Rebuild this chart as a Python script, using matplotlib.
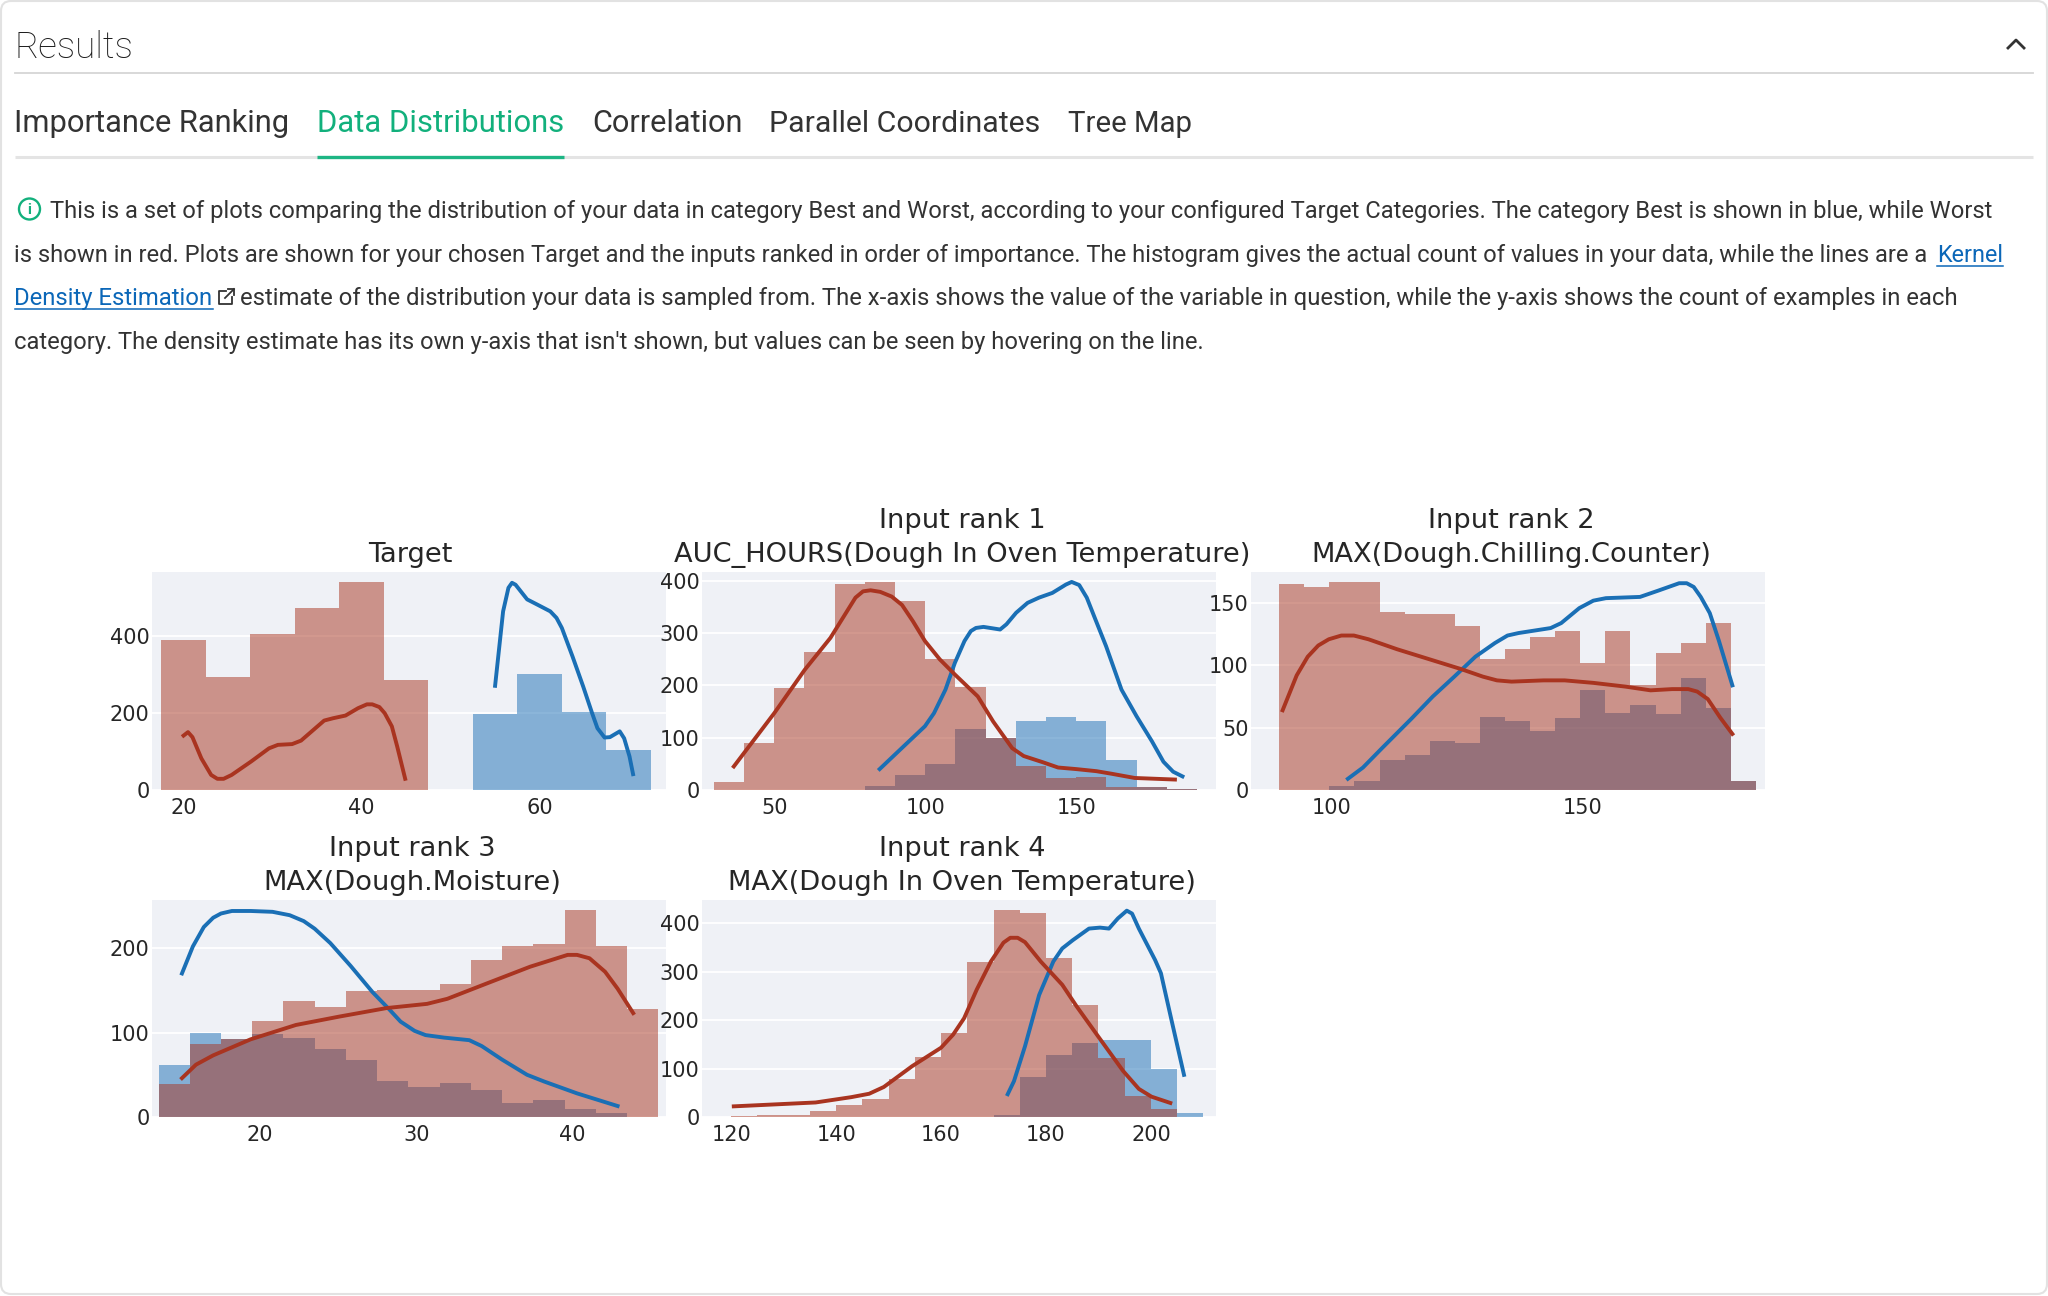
import matplotlib
matplotlib.use("Agg")
import matplotlib.pyplot as plt
from matplotlib.patches import FancyBboxPatch, Circle

# bin edges and counts
target_edges = [17.5, 22.5, 27.5, 32.5, 37.5, 42.5, 47.5, 52.5, 57.5, 62.5, 67.5, 72.5]
target_worst = [388, 292, 405, 472, 539, 286, 0, 0, 0, 0, 0]
target_best = [0, 0, 0, 0, 0, 0, 0, 197, 300, 201, 104]
target_worst_x = [20, 20.5, 21, 22, 23.1, 23.8, 24.5, 25.4, 27.6, 29.6, 30.6, 32.2, 33.2, 35.8, 36.8, 38.2, 39.6, 40.6, 41.2, 42, 42.6, 43.4, 44, 44.9]
target_worst_y = [141, 150, 137, 82, 39, 29, 29, 39, 74, 108, 117, 119, 128, 180, 186, 193, 212, 222, 222, 215, 199, 165, 113, 29]
target_best_x = [55, 55.9, 56.5, 56.9, 57.3, 58.6, 59.7, 61.2, 61.9, 62.5, 63.7, 64.9, 65.9, 66.5, 67.3, 67.9, 69, 69.5, 70.1, 70.5]
target_best_y = [270, 463, 524, 537, 532, 494, 481, 463, 446, 420, 346, 268, 199, 160, 136, 137, 152, 134, 87, 41]

auc_edges = [30, 40, 50, 60, 70, 80, 90, 100, 110, 120, 130, 140, 150, 160, 170, 180, 190]
auc_worst = [16, 90, 195, 264, 394, 398, 362, 250, 197, 99, 45, 22, 24, 5, 5, 2]
auc_best = [0, 0, 0, 0, 0, 8, 28, 50, 116, 99, 132, 140, 132, 57, 5, 2]
auc_worst_x = [36.6, 50, 60.1, 68.6, 76.9, 79.4, 81.9, 85.1, 88.9, 92.3, 95.9, 99.9, 104.8, 109.8, 117.4, 122.5, 128.8, 132.6, 139, 144, 150, 156.7, 161.8, 169.4, 182.7]
auc_worst_y = [45, 147, 230, 291, 368, 380, 382, 379, 370, 354, 323, 285, 250, 221, 179, 131, 80, 65, 53, 43, 40, 36, 31, 23, 20]
auc_best_x = [84.9, 93.3, 99.9, 102.9, 106.7, 109.8, 113, 115.1, 116.8, 119.3, 124.8, 126.9, 130.1, 133.9, 137.7, 142.1, 146.6, 148.5, 151, 153.5, 156.1, 159.9, 165, 170, 175.1, 178.9, 182.1, 185.2]
auc_best_y = [40, 86, 122, 147, 192, 243, 285, 304, 310, 312, 307, 317, 339, 358, 368, 377, 393, 398, 392, 368, 330, 275, 192, 141, 93, 54, 35, 26]

chill_edges = [89.5, 94.5, 99.5, 104.5, 109.5, 114.5, 119.5, 124.5, 129.5, 134.5, 139.5, 144.5, 149.5, 154.5, 159.5, 164.5, 169.5, 174.5, 179.5, 184.5]
chill_worst = [165, 163, 167, 167, 143, 141, 141, 132, 105, 113, 123, 128, 102, 128, 84, 110, 118, 134, 7]
chill_best = [0, 0, 3, 7, 24, 28, 39, 38, 59, 55, 47, 58, 80, 62, 68, 61, 90, 66, 7]
chill_worst_x = [90.2, 93, 95.2, 97.3, 99.4, 101.9, 104.4, 107.3, 113, 119.4, 125.8, 130.1, 132.9, 135.8, 142.2, 146.4, 152.1, 158.5, 163.5, 167.8, 171, 172.8, 174.9, 177.4, 179.8]
chill_worst_y = [64, 92, 107, 116, 121, 124, 124, 121, 113, 105, 97, 91, 88, 87, 88, 88, 86, 83, 80, 81, 81, 79, 73, 58, 45]
chill_best_x = [103.2, 106.2, 110.1, 115.8, 120.1, 124.4, 128.6, 132.5, 135, 137.2, 143.6, 145.7, 149.3, 152.1, 154.6, 161.4, 165, 169.2, 170.7, 172.1, 173.5, 175.3, 177.1, 179.8]
chill_best_y = [9, 18, 34, 57, 75, 91, 107, 118, 124, 126, 130, 134, 146, 152, 154, 155, 160, 166, 166, 163, 155, 142, 120, 84]

moist_edges = [13.5, 15.5, 17.5, 19.5, 21.5, 23.5, 25.5, 27.5, 29.5, 31.5, 33.5, 35.5, 37.5, 39.5, 41.5, 43.5, 45.5]
moist_worst = [39, 86, 92, 114, 137, 130, 149, 150, 150, 157, 186, 203, 205, 245, 203, 128]
moist_best = [61, 100, 92, 98, 94, 80, 67, 43, 35, 40, 32, 17, 20, 10, 5, 0]
moist_worst_x = [15, 15.9, 17, 19.4, 22.3, 25.1, 28.1, 30.7, 32, 34.5, 37.3, 39.7, 40.3, 41.1, 42.1, 42.9, 43.9]
moist_worst_y = [46, 62, 73, 92, 109, 119, 129, 134, 140, 158, 178, 192, 192, 188, 172, 152, 123]
moist_best_x = [15, 15.7, 16.4, 17, 17.5, 18.2, 19.4, 20.8, 21.9, 22.8, 23.5, 24.5, 25.8, 27.2, 28.3, 29, 29.9, 30.6, 31.8, 33.4, 34.2, 35.5, 37.1, 38.2, 40.3, 42.9]
moist_best_y = [170, 202, 225, 236, 241, 244, 244, 243, 239, 232, 223, 206, 179, 148, 127, 113, 102, 97, 94, 91, 84, 68, 50, 42, 28, 13]

oven_edges = [120, 125, 130, 135, 140, 145, 150, 155, 160, 165, 170, 175, 180, 185, 190, 195, 200, 205, 210]
oven_worst = [2, 5, 5, 12, 24, 38, 79, 124, 174, 320, 427, 421, 329, 231, 121, 44, 17, 0]
oven_best = [0, 0, 0, 0, 0, 0, 0, 0, 0, 0, 5, 83, 128, 152, 159, 159, 100, 8]
oven_worst_x = [120.5, 136.1, 142.9, 146.3, 149.1, 154.5, 160, 162.3, 164.4, 166.8, 169.5, 171.9, 173.2, 174.6, 176, 179, 183.1, 185.8, 189.9, 194.7, 197.7, 200.1, 203.7]
oven_worst_y = [22, 30, 41, 48, 62, 105, 143, 170, 204, 263, 321, 360, 370, 370, 361, 321, 273, 229, 167, 95, 58, 42, 29]
oven_best_x = [172.7, 173.9, 176, 178.7, 181.4, 183.1, 185.1, 188.2, 190.3, 192, 193.7, 195.4, 196.4, 197.7, 200.8, 201.9, 203.9, 206.3]
oven_best_y = [47, 74, 146, 252, 321, 348, 365, 389, 391, 389, 410, 426, 420, 389, 324, 297, 201, 87]

W = 2048
H = 1296
BLUE = "#1a6fb5"
RED = "#a93420"
GREEN = "#12b07c"
LINK = "#0b67b8"
DARK = "#333333"
ROW1 = 572, 790
ROW2 = 900, 1117


def panel(box, title, edges, worst, best, worst_x, worst_y, best_x, best_y, xlim, ylim, xticks, yticks, title_x=0.507):
    left, right = box[0]
    top, bottom = box[1]
    ax = fig.add_axes([left / W, 1 - bottom / H, (right - left) / W, (bottom - top) / H])
    ax.set_facecolor("#eff1f6")
    for s in ax.spines.values():
        s.set_visible(False)
    ax.stairs(best, edges, fill=True, color=BLUE, alpha=0.5, linewidth=0)
    ax.stairs(worst, edges, fill=True, color=RED, alpha=0.5, linewidth=0)
    ax.plot(best_x, best_y, color=BLUE, lw=2.8, solid_joinstyle="round")
    ax.plot(worst_x, worst_y, color=RED, lw=2.8, solid_joinstyle="round")
    ax.set_xlim(*xlim)
    ax.set_ylim(*ylim)
    ax.set_xticks(xticks)
    ax.set_yticks(yticks)
    ax.grid(axis="y", color="white", lw=1.3)
    ax.set_axisbelow(True)
    ax.tick_params(length=0, labelsize=15, labelcolor="#262626")
    ax.tick_params(axis="x", pad=6)
    ax.tick_params(axis="y", pad=1.5)
    ax.set_title(title, fontsize=19.6, color="#262626", pad=7.5, linespacing=1.4, x=title_x)
    return ax


def put(x, y, s, width=None, ha="left", size=18, **kw):
    # width in pixels, the font size gets scaled to fit it
    t = page.text(x, y, s, ha=ha, va="center", fontsize=size, family="Roboto", **kw)
    if width is not None:
        got = t.get_window_extent(renderer).width
        t.set_fontsize(size * width / got)
    return t


plt.rcParams["font.family"] = "DejaVu Sans"
fig = plt.figure(figsize=(W / 100, H / 100), dpi=100, facecolor="white")
renderer = fig.canvas.get_renderer()

page = fig.add_axes([0, 0, 1, 1], zorder=-1)
page.set_xlim(0, W)
page.set_ylim(H, 0)
page.axis("off")

page.add_patch(FancyBboxPatch((1, 1), W - 2, H - 3, boxstyle="round,pad=0,rounding_size=10", fc="white", ec="#e2e2e2", lw=1.5))
put(15, 47.5, "Results", width=119, size=25, color="#1c1c1c", weight="light")
page.plot([2008, 2016, 2024], [48, 40, 48], color="#333333", lw=2)
page.plot([15, 2033], [73, 73], color="#d5d5d5", lw=1.3)

tabs = ["Importance Ranking", "Data Distributions", "Correlation", "Parallel Coordinates", "Tree Map"]
tab_x = [14.5, 317, 592, 769, 1068]
tab_w = [275, 247, 150, 271, 124]
for name, x, w in zip(tabs, tab_x, tab_w):
    put(x, 123.5, name, width=w, size=21, color=GREEN if name == "Data Distributions" else DARK)
page.plot([15, 2033], [157, 157], color="#e4e4e4", lw=2.2, solid_capstyle="butt")
page.plot([317, 564], [157, 157], color="#1db584", lw=2.4, solid_capstyle="butt")

# info icon
page.add_patch(Circle((29.5, 209), 10.5, fc="none", ec=GREEN, lw=1.7))
page.text(29.5, 209.5, "i", ha="center", va="center", color=GREEN, fontsize=11, weight="bold", family="Roboto")

put(50, 211.5, "This is a set of plots comparing the distribution of your data in category Best and Worst, according to your configured Target Categories. The category Best is shown in blue, while Worst", width=1944, color=DARK)
put(14.5, 255.5, "is shown in red. Plots are shown for your chosen Target and the inputs ranked in order of importance. The histogram gives the actual count of values in your data, while the lines are a", width=1917, color=DARK)
put(1937, 255.5, "Kernel", width=66, color=LINK)
page.plot([1937, 2003], [266, 266], color=LINK, lw=1.1)
put(14.5, 298.5, "Density Estimation", width=198.5, color=LINK)
page.plot([14.5, 213], [309, 309], color=LINK, lw=1.1)
put(240, 298.5, "estimate of the distribution your data is sampled from. The x-axis shows the value of the variable in question, while the y-axis shows the count of examples in each", width=1716, color=DARK)
put(14.5, 342.5, "category. The density estimate has its own y-axis that isn't shown, but values can be seen by hovering on the line.", width=1192, color=DARK)

# external link icon
page.plot([226, 219, 219, 232, 232], [291, 291, 304, 304, 297], color="#333333", lw=1.3)
page.plot([225, 234], [298, 289], color="#333333", lw=1.3)
page.plot([228, 234, 234], [289, 289, 295], color="#333333", lw=1.3)

panel(((151.5, 666), ROW1), "Target", target_edges, target_worst, target_best,
      target_worst_x, target_worst_y, target_best_x, target_best_y,
      (16.4, 74.2), (0, 565), [20, 40, 60], [0, 200, 400], title_x=0.503)
panel(((701.5, 1216), ROW1), "Input rank 1\nAUC_HOURS(Dough In Oven Temperature)", auc_edges, auc_worst, auc_best,
      auc_worst_x, auc_worst_y, auc_best_x, auc_best_y,
      (25.9, 196.3), (0, 417), [50, 100, 150], [0, 100, 200, 300, 400])
panel(((1250.5, 1765), ROW1), "Input rank 2\nMAX(Dough.Chilling.Counter)", chill_edges, chill_worst, chill_best,
      chill_worst_x, chill_worst_y, chill_best_x, chill_best_y,
      (83.8, 186.3), (0, 175), [100, 150], [0, 50, 100, 150])
panel(((151.5, 666), ROW2), "Input rank 3\nMAX(Dough.Moisture)", moist_edges, moist_worst, moist_best,
      moist_worst_x, moist_worst_y, moist_best_x, moist_best_y,
      (13.05, 46.0), (0, 257), [20, 30, 40], [0, 100, 200])
panel(((701.5, 1216), ROW2), "Input rank 4\nMAX(Dough In Oven Temperature)", oven_edges, oven_worst, oven_best,
      oven_worst_x, oven_worst_y, oven_best_x, oven_best_y,
      (114.35, 212.4), (0, 448), [120, 140, 160, 180, 200], [0, 100, 200, 300, 400])

plt.savefig("out.png", dpi=100)
